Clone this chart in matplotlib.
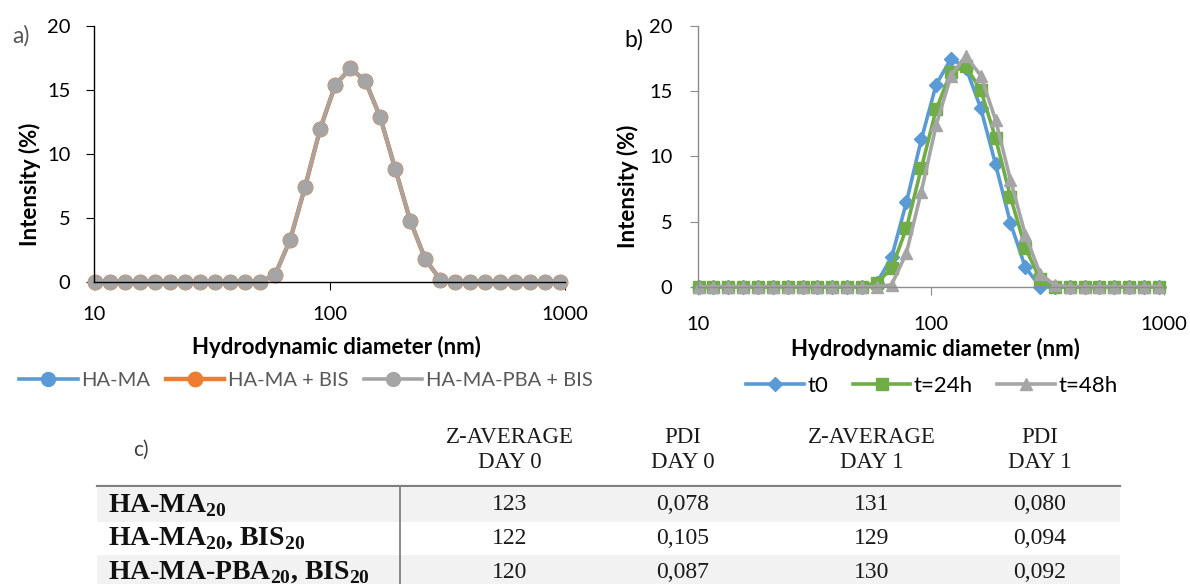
import numpy as np
import matplotlib.pyplot as plt
from matplotlib.patches import Rectangle
from matplotlib.ticker import NullLocator

plt.rcParams['font.family'] = ['Lato', 'DejaVu Sans']
plt.rcParams['mathtext.fontset'] = 'custom'
plt.rcParams['mathtext.rm'] = 'Liberation Serif'
plt.rcParams['mathtext.bf'] = 'Liberation Serif:bold'

# Zetasizer size classes (nm)
diam = [10.1, 11.7, 13.54, 15.69, 18.17, 21.04, 24.36, 28.21, 32.67, 37.84,
        43.82, 50.75, 58.77, 68.06, 78.82, 91.28, 105.7, 122.4, 141.8, 164.2,
        190.1, 220.2, 255.0, 295.3, 342.0, 396.1, 458.7, 531.2, 615.1, 712.4,
        825.0, 955.4]

# panel a) intensity (%)
ha_ma = [0, 0, 0, 0, 0, 0, 0, 0, 0, 0, 0, 0,
         0.57, 3.3, 7.46, 11.96, 15.37, 16.7, 15.73, 12.87, 8.84, 4.79, 1.79, 0.18,
         0, 0, 0, 0, 0, 0, 0, 0]
ha_ma_bis = [0, 0, 0, 0, 0, 0, 0, 0, 0, 0, 0, 0,
             0.57, 3.3, 7.46, 11.96, 15.37, 16.7, 15.73, 12.87, 8.84, 4.79, 1.79, 0.18,
             0, 0, 0, 0, 0, 0, 0, 0]
ha_ma_pba_bis = [0, 0, 0, 0, 0, 0, 0, 0, 0, 0, 0, 0,
                 0.57, 3.3, 7.46, 11.96, 15.37, 16.7, 15.73, 12.87, 8.84, 4.79, 1.79, 0.18,
                 0, 0, 0, 0, 0, 0, 0, 0]

# panel b) intensity (%) over time
t0 = [0, 0, 0, 0, 0, 0, 0, 0, 0, 0, 0, 0,
      0.3, 2.25, 6.5, 11.3, 15.5, 17.5, 16.8, 13.7, 9.4, 4.9, 1.5, 0,
      0, 0, 0, 0, 0, 0, 0, 0]
t24 = [0, 0, 0, 0, 0, 0, 0, 0, 0, 0, 0, 0,
       0.3, 1.4, 4.5, 9.1, 13.6, 16.5, 16.9, 15.1, 11.4, 6.9, 3.0, 0.56,
       0, 0, 0, 0, 0, 0, 0, 0]
t48 = [0, 0, 0, 0, 0, 0, 0, 0, 0, 0, 0, 0,
       0, 0.15, 2.6, 7.3, 12.4, 16.2, 17.7, 16.2, 12.8, 8.2, 4.0, 1.0,
       0.1, 0, 0, 0, 0, 0, 0, 0]

# panel c) table
col_headers = ['Z-AVERAGE\nDAY 0', 'PDI\nDAY 0', 'Z-AVERAGE\nDAY 1', 'PDI\nDAY 1']
samples = [r'HA-MA$_{\mathbf{20}}$',
           r'HA-MA$_{\mathbf{20}}$, BIS$_{\mathbf{20}}$',
           r'HA-MA-PBA$_{\mathbf{20}}$, BIS$_{\mathbf{20}}$']
z_day0 = [123, 122, 120]
pdi_day0 = [0.078, 0.105, 0.087]
z_day1 = [131, 129, 130]
pdi_day1 = [0.080, 0.094, 0.092]

W, H = 1190, 584
fig = plt.figure(figsize=(W / 100, H / 100), dpi=100)


def px_axes(l, t, r, b, **kw):
    return fig.add_axes([l / W, 1 - b / H, (r - l) / W, (b - t) / H], **kw)


def setup(ax, spine_col, ypad, xpad):
    ax.set_xscale('log')
    ax.set_xlim(10, 1000)
    ax.set_ylim(0, 20)
    ax.set_xticks([10, 100, 1000])
    ax.set_xticklabels(['10', '100', '1000'])
    ax.xaxis.set_minor_locator(NullLocator())
    ax.set_yticks([0, 5, 10, 15, 20])
    for s in ['top', 'right']:
        ax.spines[s].set_visible(False)
    for s in ['left', 'bottom']:
        ax.spines[s].set_color(spine_col)
        ax.spines[s].set_linewidth(1.0)
    ax.tick_params(axis='both', direction='out', length=6, color=spine_col,
                   labelsize=14.5, labelcolor='black')
    ax.tick_params(axis='y', pad=ypad)
    ax.tick_params(axis='x', pad=xpad)


# ---- a)
axA = px_axes(94, 26, 565, 282)
setup(axA, 'black', 11, 11)
axA.plot(diam, ha_ma, color='#5b9bd5', lw=2.6, marker='o', ms=10, clip_on=False, label='HA-MA')
axA.plot(diam, ha_ma_bis, color='#ed7d31', lw=3.2, marker='o', ms=10.4, clip_on=False, label='HA-MA + BIS')
axA.plot(diam, ha_ma_pba_bis, color='#a5a5a5', lw=2.6, marker='o', ms=10, clip_on=False, label='HA-MA-PBA + BIS')
axA.set_xlabel('Hydrodynamic diameter (nm)', fontsize=16, fontweight='bold')
axA.xaxis.set_label_coords(0.514, -0.254)
axA.xaxis.label.set_va('center')
axA.set_ylabel('Intensity (%)', fontsize=16, fontweight='bold')
axA.yaxis.set_label_coords(-0.136, 0.38)
axA.yaxis.label.set_va('center')
legA = fig.legend(loc='center', bbox_to_anchor=(306 / W, 1 - 380 / H), ncol=3, frameon=False,
                  fontsize=14.5, handlelength=2.9, handletextpad=0.2, columnspacing=0.75,
                  labelcolor='#595959', handles=axA.get_lines())
fig.text(21 / W, 1 - 36 / H, 'a)', fontsize=16.5, color='#595959', ha='center', va='center')

# ---- b)
axB = px_axes(697.6, 26, 1163.5, 286.7)
setup(axB, '#8c8c8c', 12, 15)
axB.plot(diam, t0, color='#5b9bd5', lw=2.6, marker='D', ms=7, clip_on=False, label='t0')
axB.plot(diam, t24, color='#70ad47', lw=2.6, marker='s', ms=8, clip_on=False, label='t=24h')
axB.plot(diam, t48, color='#a5a5a5', lw=2.6, marker='^', ms=9, clip_on=False, label='t=48h')
axB.set_xlabel('Hydrodynamic diameter (nm)', fontsize=16, fontweight='bold')
axB.xaxis.set_label_coords(0.51, -0.24)
axB.xaxis.label.set_va('center')
axB.set_ylabel('Intensity (%)', fontsize=16, fontweight='bold')
axB.yaxis.set_label_coords(-0.149, 0.386)
axB.yaxis.label.set_va('center')
legB = fig.legend(loc='center', bbox_to_anchor=(932 / W, 1 - 386 / H), ncol=3, frameon=False,
                  fontsize=16, handlelength=2.6, handletextpad=0.15, columnspacing=1.1,
                  labelcolor='black', handles=axB.get_lines())
fig.text(634 / W, 1 - 40 / H, 'b)', fontsize=16.5, color='black', ha='center', va='center')

# ---- c) table
axT = px_axes(0, 0, W, H, zorder=-1)
axT.set_xlim(0, W)
axT.set_ylim(H, 0)
axT.axis('off')

col_x = [510, 683, 872, 1040]
row_y = [505, 538, 572]
row_h = 34
tab_left, tab_right, tab_top = 97, 1120, 487

for i, y in enumerate(row_y):
    if i % 2 == 0:
        axT.add_patch(Rectangle((tab_left, y - row_h / 2), tab_right - tab_left, row_h,
                                facecolor='#f2f2f2', edgecolor='none'))
axT.plot([tab_left, tab_right], [tab_top - 1, tab_top - 1], color='#808080', lw=1.6)
axT.plot([400, 400], [tab_top, H], color='#808080', lw=1.3)

axT.text(141, 450, 'c)', fontsize=15, color='#404040', ha='center', va='center')
for x, h in zip(col_x, col_headers):
    axT.text(x, 450, h, fontsize=16.5, family='Liberation Serif', color='#1a1a1a',
             ha='center', va='center', linespacing=1.3)

for i, y in enumerate(row_y):
    axT.text(108, y + 1, samples[i], fontsize=20, family='Liberation Serif', fontweight='bold',
             color='#111111', ha='left', va='center')
    vals = [str(z_day0[i]), f'{pdi_day0[i]:.3f}'.replace('.', ','),
            str(z_day1[i]), f'{pdi_day1[i]:.3f}'.replace('.', ',')]
    for x, v in zip(col_x, vals):
        axT.text(x, y, v, fontsize=17, family='Liberation Serif', color='#1a1a1a',
                 ha='center', va='center')

fig.savefig('out.png', dpi=100)
